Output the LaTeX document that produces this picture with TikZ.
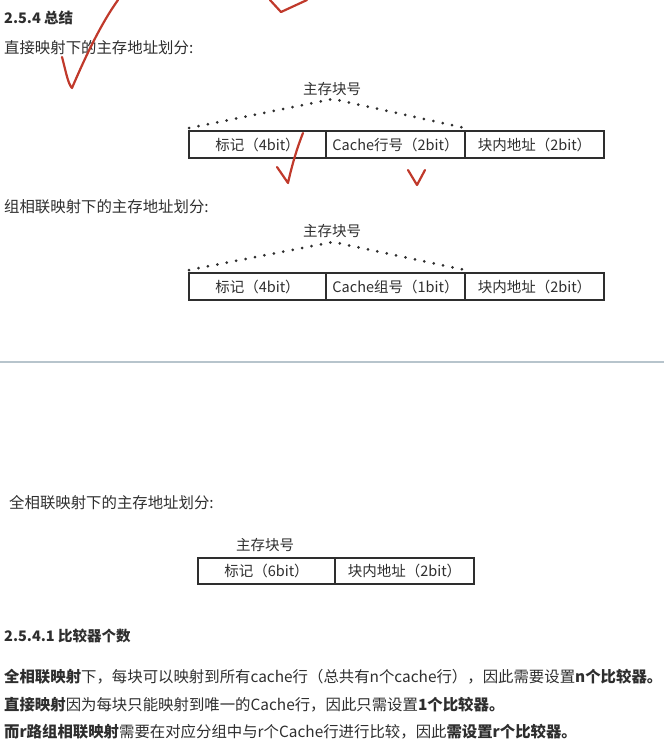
\documentclass[tikz,border=0pt]{standalone}
\usepackage{fontspec}
\setmainfont{Noto Sans CJK SC}
\usetikzlibrary{positioning}
\definecolor{inkGray}{HTML}{2E2E2E}
\definecolor{ruleGray}{HTML}{B7C4CC}
\definecolor{markRed}{HTML}{C0392B}

\begin{document}
\begin{tikzpicture}[x=1pt,y=-1pt,
    every node/.style={text=inkGray,inner sep=0pt},
    heading/.style={anchor=west,font=\fontsize{14.5}{16}\selectfont\bfseries},
    para/.style={anchor=west,font=\fontsize{15.4}{17}\selectfont},
    cell/.style={rectangle,draw=inkGray,line width=1.1pt,outer sep=0pt,
                 minimum height=27pt,font=\fontsize{14.5}{16}\selectfont},
    blocklabel/.style={font=\fontsize{14.5}{16}\selectfont},
    hint/.style={draw=inkGray,dash pattern=on 0pt off 9.6pt,line cap=round,line width=3pt},
    tick/.style={draw=markRed,line width=2.2pt,line cap=round,line join=round}
  ]
  \useasboundingbox (0,0) rectangle (664,744);
  %% Direct mapping
  \node[heading] (sec) at (4,18) {2.5.4 总结};
  \node[para] (direct) at (4,48) {直接映射下的主存地址划分:};
  \node[blocklabel] (blk1) at (332,89) {主存块号};
  \node[cell,minimum width=137pt,anchor=north west] (tag1) at (189,131) {标记（4bit）};
  \node[cell,minimum width=139pt,right=0pt of tag1] (line1) {Cache行号（2bit）};
  \node[cell,minimum width=139pt,right=0pt of line1] (off1) {块内地址（2bit）};
  \coordinate (apex1) at (333,99);
  \draw[hint] ([yshift=3pt]tag1.north west) -- (apex1) -- ([yshift=3pt]line1.north east);
  %% Set associative mapping
  \node[para] (setassoc) at (4,207) {组相联映射下的主存地址划分:};
  \node[blocklabel] (blk2) at (332,231) {主存块号};
  \node[cell,minimum width=137pt,anchor=north west] (tag2) at (189,273) {标记（4bit）};
  \node[cell,minimum width=139pt,right=0pt of tag2] (set2) {Cache组号（1bit）};
  \node[cell,minimum width=139pt,right=0pt of set2] (off2) {块内地址（2bit）};
  \coordinate (apex2) at (333,242);
  \draw[hint] ([yshift=3pt]tag2.north west) -- (apex2) -- ([yshift=3pt]set2.north east);
  %% Page break rule
  \draw[ruleGray,line width=2pt] (0,362) -- (664,362);
  %% Fully associative mapping
  \node[para] (fullassoc) at (9,503) {全相联映射下的主存地址划分:};
  \node[blocklabel] (blk3) at (265,545) {主存块号};
  \node[cell,minimum width=137pt,minimum height=26pt,anchor=north west] (tag3) at (198,558) {标记（6bit）};
  \node[cell,minimum width=139pt,minimum height=26pt,right=0pt of tag3] (off3) {块内地址（2bit）};
  %% Comparators
  \node[heading] (subsec) at (4,636) {2.5.4.1 比较器个数};
  \node[para] (note1) at (4,677) {\textbf{全相联映射}下，每块可以映射到所有cache行（总共有n个cache行），因此需要设置\textbf{n个比较器。}};
  \node[para] (note2) at (4,705) {\textbf{直接映射}因为每块只能映射到唯一的Cache行，因此只需设置\textbf{1个比较器。}};
  \node[para] (note3) at (4,732) {\textbf{而r路组相联映射}需要在对应分组中与r个Cache行进行比较，因此\textbf{需设置r个比较器。}};
  %% Red pen marks
  \draw[tick] (62,57) .. controls (66,72) and (68,84) .. (72,88) .. controls (84,60) and (100,25) .. (118,0);
  \draw[tick] (270,0) -- (281,12) -- (307,0);
  \draw[tick] (277,167) -- (288,183) .. controls (292,165) and (297,148) .. (303,133);
  \draw[tick] (408,170) -- (417,185) -- (425,170);
\end{tikzpicture}
\end{document}
